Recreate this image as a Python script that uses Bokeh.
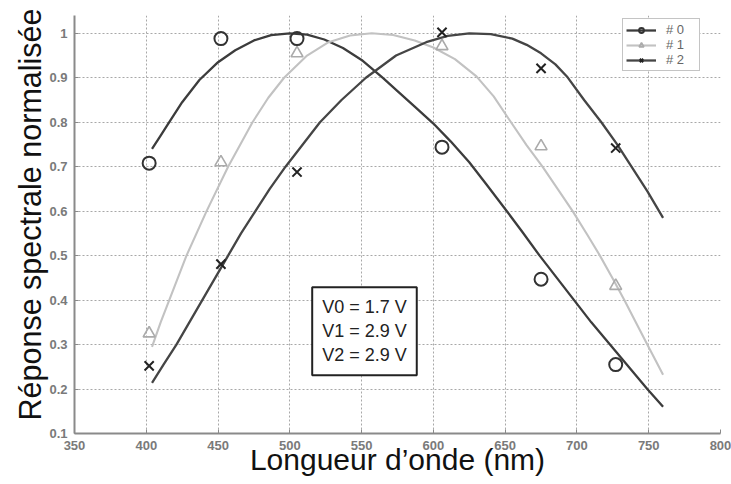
from bokeh.plotting import figure
from bokeh.models import (Range1d, FixedTicker, NumeralTickFormatter, Legend, LegendItem,
                          Label, Title)
from bokeh.embed import file_html
from bokeh.resources import INLINE

# Measured points (wavelength in nm, normalised response)
wavelengths = [402, 452, 505, 606, 675, 727]
resp_0 = [0.708, 0.988, 0.988, 0.744, 0.447, 0.255]
resp_1 = [0.325, 0.710, 0.955, 0.971, 0.746, 0.432]
resp_2 = [0.252, 0.481, 0.688, 1.002, 0.921, 0.742]

# Fitted response curves (wavelength, normalised response)
fit_x_0 = [404, 410, 416, 425, 437, 450, 462, 475, 487, 500, 512, 524, 537, 550, 565, 575,
           587, 600, 612, 625, 637, 650, 662, 674, 686, 698, 710, 723, 736, 749, 760]
fit_y_0 = [0.74, 0.77, 0.80, 0.845, 0.895, 0.935, 0.962, 0.984, 0.996, 1.0, 0.997, 0.986,
           0.967, 0.94, 0.899, 0.87, 0.835, 0.797, 0.757, 0.71, 0.66, 0.605, 0.553, 0.50,
           0.45, 0.40, 0.35, 0.30, 0.25, 0.20, 0.16]
fit_x_1 = [404, 410, 416, 428, 442, 457, 474, 485, 496, 512, 527, 542, 557, 572, 587, 600,
           615, 630, 642, 653, 665, 676, 687, 697, 707, 716, 725, 733, 741, 749, 760]
fit_y_1 = [0.295, 0.35, 0.40, 0.50, 0.60, 0.70, 0.80, 0.855, 0.90, 0.95, 0.98, 0.995, 1.0,
           0.996, 0.984, 0.968, 0.942, 0.903, 0.858, 0.805, 0.748, 0.70, 0.648, 0.60, 0.548,
           0.50, 0.448, 0.40, 0.35, 0.30, 0.232]
fit_x_2 = [404, 412, 421, 430, 439, 448, 457, 466, 476, 486, 497, 509, 521, 536, 553, 574,
           595, 610, 625, 640, 655, 665, 675, 685, 693, 705, 717, 728, 738, 749, 760]
fit_y_2 = [0.214, 0.255, 0.30, 0.35, 0.40, 0.45, 0.50, 0.55, 0.60, 0.65, 0.70, 0.75, 0.80,
           0.85, 0.90, 0.95, 0.98, 0.994, 1.0, 0.998, 0.988, 0.974, 0.955, 0.93, 0.903,
           0.85, 0.80, 0.75, 0.70, 0.645, 0.585]

x_ticks = [350, 400, 450, 500, 550, 600, 650, 700, 750, 800]
y_ticks = [0.1, 0.2, 0.3, 0.4, 0.5, 0.6, 0.7, 0.8, 0.9, 1.0]
series_names = ["# 0", "# 1", "# 2"]
bias_text = "V0 = 1.7 V\nV1 = 2.9 V\nV2 = 2.9 V"
x_title = "Longueur d\u2019onde (nm)"
y_title = "Réponse spectrale normalisée"

FONT = "Liberation Sans"
DARK = "#3c3c3c"
LIGHT = "#c2c2c2"

p = figure(width=731, height=484, x_range=Range1d(350, 800), y_range=Range1d(0.1, 1.04),
           output_backend="svg", toolbar_location=None,
           min_border_left=74, min_border_right=11, min_border_top=15, min_border_bottom=51)
p.outline_line_color = None
p.background_fill_color = "white"

for ax in (p.xaxis[0], p.yaxis[0]):
    ax.axis_line_color = "#8a8a8a"
    ax.axis_line_width = 2
    ax.major_tick_line_color = "#8a8a8a"
    ax.major_tick_in = 4
    ax.major_tick_out = 0
    ax.minor_tick_line_color = None
    ax.major_label_text_color = "#7a7a7a"
    ax.major_label_text_font = FONT
    ax.major_label_text_font_size = "13px"
    ax.major_label_text_font_style = "bold"
    ax.axis_label_text_font = FONT
    ax.axis_label_text_font_style = "normal"
    ax.axis_label_text_color = "#111111"

p.xaxis.axis_label_text_font_size = "30px"
p.xaxis.ticker = FixedTicker(ticks=x_ticks)
p.yaxis.ticker = FixedTicker(ticks=y_ticks)
p.yaxis.formatter = NumeralTickFormatter(format="0.[0]")
p.xaxis.axis_label = x_title
p.xaxis.major_label_standoff = 7
p.yaxis.major_label_standoff = 7
p.xaxis.axis_label_standoff = -10

# vertical title on the left, starting just above the bottom of the frame
p.add_layout(Title(text=y_title, align="left", offset=13, standoff=0,
                   text_font=FONT, text_font_size="30.5px", text_font_style="normal",
                   text_color="#111111"), "left")

for g in (p.xgrid[0], p.ygrid[0]):
    g.grid_line_color = "#a8a8a8"
    g.grid_line_dash = "2 2"
    g.grid_line_width = 1

# fitted curves
c0 = p.line(fit_x_0, fit_y_0, line_color=DARK, line_width=2.3, line_join="round")
c1 = p.line(fit_x_1, fit_y_1, line_color=LIGHT, line_width=2.1, line_join="round")
c2 = p.line(fit_x_2, fit_y_2, line_color="#454545", line_width=2.3, line_join="round")

# measured points
m0 = p.scatter(wavelengths, resp_0, marker="circle", size=13, fill_color=None,
               line_color="#333333", line_width=2)
m1 = p.scatter(wavelengths, resp_1, marker="triangle", size=12, fill_color=None,
               line_color="#ababab", line_width=1.6)
m2 = p.scatter(wavelengths, resp_2, marker="x", size=13, line_color="#222222", line_width=2)

legend = Legend(items=[LegendItem(label=series_names[0], renderers=[c0, m0]),
                       LegendItem(label=series_names[1], renderers=[c1, m1]),
                       LegendItem(label=series_names[2], renderers=[c2, m2])],
                location=(548, 362), orientation="vertical")
legend.label_text_font = FONT
legend.label_text_font_size = "13px"
legend.label_text_color = "#666666"
legend.glyph_width = 30
legend.glyph_height = 12
legend.label_height = 12
legend.label_width = 30
legend.label_standoff = 10
legend.spacing = 0
legend.padding = 3
legend.margin = 0
legend.border_line_color = "#8a8a8a"
legend.border_line_width = 1.5
legend.background_fill_alpha = 1
p.add_layout(legend)

box = Label(x=552, y=0.33, text=bias_text, text_align="center", text_baseline="middle",
            text_font=FONT, text_font_size="18px", text_color="#222222",
            text_line_height=1.2,
            border_line_color="#222222", border_line_width=2,
            background_fill_color="white", padding=10)
p.add_layout(box)

open("out.html", "w").write(file_html(p, INLINE))
